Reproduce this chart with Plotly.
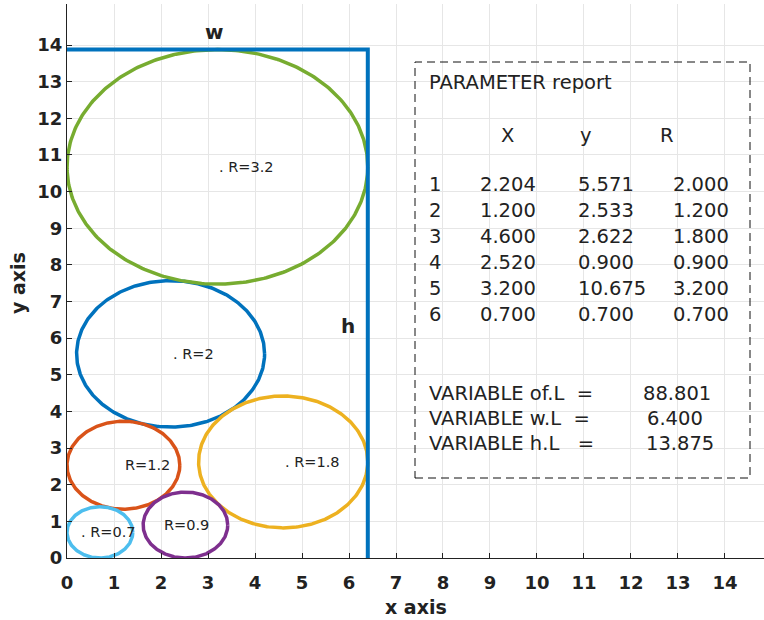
import numpy as np
import plotly.graph_objects as go

# ---- data ----
circle_x = [2.204, 1.200, 4.600, 2.520, 3.200, 0.700]
circle_y = [5.571, 2.533, 2.622, 0.900, 10.675, 0.700]
circle_r = [2.000, 1.200, 1.800, 0.900, 3.200, 0.700]
circle_labels = [". R=2", "R=1.2", ". R=1.8", "R=0.9", ". R=3.2", ". R=0.7"]
circle_colors = ["#0072BD", "#D95319", "#EDB120", "#7E2F8E", "#77AC30", "#4DBEEE"]
label_dx = [0.0, 0.0, 0.0, -0.5, 0.0, -0.45]   # label offset from centre (data units)

w_val = 6.400
h_val = 13.875
of_val = 88.801

x_ticks = list(range(0, 15))
y_ticks = list(range(0, 15))
x_range = [0, 14.83]
y_range = [0, 15.12]

# ---- layout geometry (pixels) ----
W, H = 764, 620
ML, MR, MT, MB = 67, 0, 4, 62
pw = W - ML - MR
ph = H - MT - MB

FONT = "DejaVu Sans, Liberation Sans, Arial, sans-serif"
TXT = "#222222"


def px2x(px):
    return x_range[0] + (px - ML) / pw * (x_range[1] - x_range[0])


def py2y(py):
    return y_range[0] + (H - MB - py) / ph * (y_range[1] - y_range[0])


fig = go.Figure()

t = np.linspace(0, 2 * np.pi, 361)
for cx, cy, r, col in zip(circle_x, circle_y, circle_r, circle_colors):
    fig.add_trace(go.Scatter(x=cx + r * np.cos(t), y=cy + r * np.sin(t), mode="lines",
                             line=dict(color=col, width=3.5), hoverinfo="skip", showlegend=False))

# container w x h
fig.add_trace(go.Scatter(x=[0, w_val, w_val], y=[h_val, h_val, 0], mode="lines",
                         line=dict(color="#0072BD", width=4), showlegend=False, hoverinfo="skip"))

ann = []
for cx, cy, lab, dx in zip(circle_x, circle_y, circle_labels, label_dx):
    ann.append(dict(x=cx + dx, y=cy, text=lab, showarrow=False, xanchor="left", yanchor="middle",
                    font=dict(size=14.5, color=TXT, family=FONT)))

ann.append(dict(x=px2x(214), y=py2y(32), text="<b>w</b>", showarrow=False, xanchor="center",
                yanchor="middle", font=dict(size=20, color=TXT, family=FONT)))
ann.append(dict(x=px2x(348), y=py2y(326), text="<b>h</b>", showarrow=False, xanchor="center",
                yanchor="middle", font=dict(size=20, color=TXT, family=FONT)))

tf = dict(size=19.5, color=TXT, family=FONT)
# table
ann.append(dict(x=px2x(427), y=py2y(82), text="PARAMETER report", showarrow=False,
                xanchor="left", yanchor="middle", font=tf))
for txt, px in [("X", 507), ("y", 586), ("R", 667)]:
    ann.append(dict(x=px2x(px), y=py2y(135), text=txt, showarrow=False,
                    xanchor="center", yanchor="middle", font=tf))
for i, (cx, cy, r) in enumerate(zip(circle_x, circle_y, circle_r)):
    py = 184 + 26 * i
    ann.append(dict(x=px2x(427), y=py2y(py), text=str(i + 1), showarrow=False,
                    xanchor="left", yanchor="middle", font=tf))
    ann.append(dict(x=px2x(508), y=py2y(py), text=f"{cx:.3f}", showarrow=False,
                    xanchor="center", yanchor="middle", font=tf))
    ann.append(dict(x=px2x(576), y=py2y(py), text=f"{cy:.3f}", showarrow=False,
                    xanchor="left", yanchor="middle", font=tf))
    ann.append(dict(x=px2x(731), y=py2y(py), text=f"{r:.3f}", showarrow=False,
                    xanchor="right", yanchor="middle", font=tf))

vars_ = [("VARIABLE of.L  =", of_val, 677), ("VARIABLE w.L  =", w_val, 675), ("VARIABLE h.L   =", h_val, 680)]
for j, (name, val, vpx) in enumerate(vars_):
    py = 393 + 25 * j
    ann.append(dict(x=px2x(427), y=py2y(py), text=name.replace("  ", "&nbsp;&nbsp;"), showarrow=False,
                    xanchor="left", yanchor="middle", font=tf))
    ann.append(dict(x=px2x(vpx), y=py2y(py), text=f"{val:.3f}", showarrow=False,
                    xanchor="center", yanchor="middle", font=tf))

# axis titles
ann.append(dict(xref="paper", yref="paper", x=(416 - ML) / pw, y=(H - MB - 607) / ph,
                text="<b>x axis</b>", showarrow=False, xanchor="center", yanchor="middle",
                font=dict(size=19, color=TXT, family=FONT)))
ann.append(dict(xref="paper", yref="paper", x=(18 - ML) / pw, y=(H - MB - 283) / ph,
                text="<b>y axis</b>", showarrow=False, xanchor="center", yanchor="middle",
                textangle=-90, font=dict(size=19, color=TXT, family=FONT)))

shapes = [dict(type="rect", x0=px2x(415), x1=px2x(750), y0=py2y(478), y1=py2y(62),
               line=dict(color="#111111", width=1, dash="8px,5px"), fillcolor="rgba(0,0,0,0)")]

axis_common = dict(showgrid=True, gridcolor="#E6E6E6", gridwidth=1, zeroline=False,
                   showline=True, linecolor="#222222", linewidth=1, automargin=False,
                   ticks="inside", ticklen=5, tickcolor="#222222", tickwidth=1,
                   tickfont=dict(size=18, color=TXT, family=FONT))

fig.update_layout(
    width=W, height=H,
    margin=dict(l=ML, r=MR, t=MT, b=MB, autoexpand=False),
    paper_bgcolor="white", plot_bgcolor="white",
    font=dict(family=FONT),
    annotations=ann, shapes=shapes, showlegend=False,
    xaxis=dict(range=x_range, tickvals=x_ticks, ticktext=[f"<b>{v}</b>" for v in x_ticks],
               ticklabelstandoff=8, **axis_common),
    yaxis=dict(range=y_range, tickvals=y_ticks, ticktext=[f"<b>{v}</b>" for v in y_ticks],
               **axis_common),
)

fig.write_html("out.html", config={"displayModeBar": False},
               post_script="document.body.style.margin='0px';document.body.style.padding='0px';")
